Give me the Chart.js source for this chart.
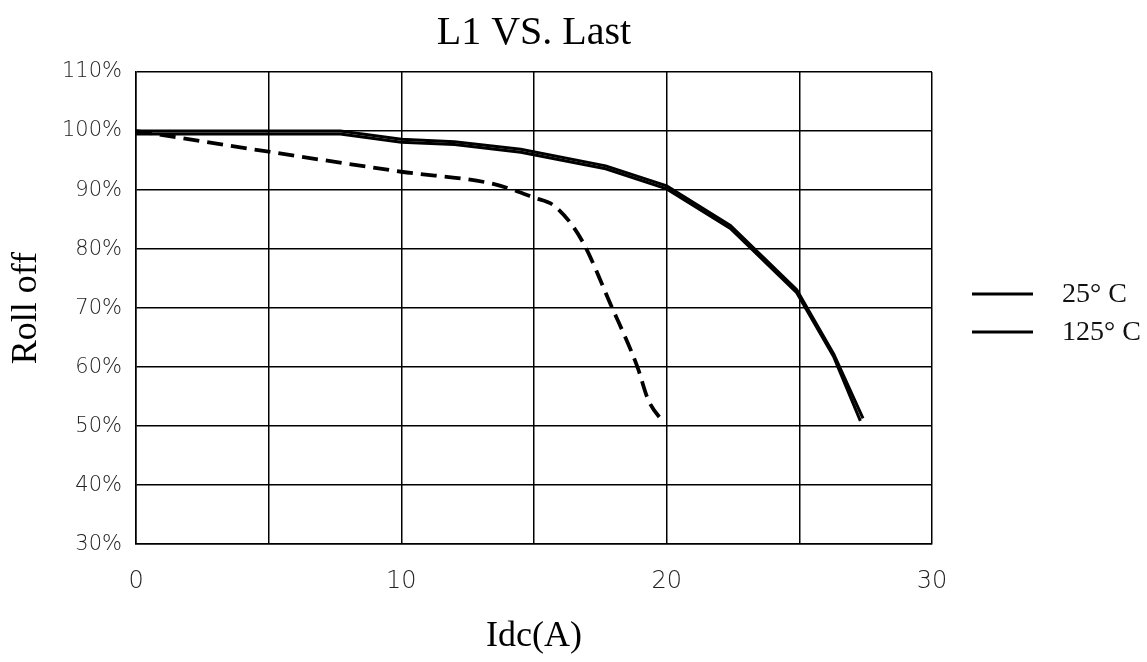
<!DOCTYPE html>
<html>
<head>
<meta charset="utf-8">
<script src="https://cdn.jsdelivr.net/npm/chart.js@4.4.1/dist/chart.umd.min.js"></script>
<style>
html,body{margin:0;padding:0;background:#fff;}
#wrap{width:1147px;height:662px;position:relative;}
</style>
</head>
<body>
<div id="wrap"><canvas id="c" width="1147" height="662"></canvas></div>
<script>
// ---- data ----
const chartTitle = 'L1 VS. Last';
const xAxisTitle = 'Idc(A)';
const yAxisTitle = 'Roll off';
const legendLabels = ['25° C', '125° C'];

const idc25  = [0, 7.7, 10, 12, 14.5, 17.7, 20, 22.4, 24.9, 26.3, 27.4];
const roll25 = [100, 100, 98.6, 98.2, 96.9, 94.1, 90.7, 84.0, 73.1, 62.2, 51.3];

const idc125  = [0, 7.7, 10, 12, 14.5, 17.7, 20, 22.4, 24.9, 26.3, 27.3];
const roll125 = [99.5, 99.5, 98.1, 97.7, 96.4, 93.6, 90.2, 83.5, 72.6, 61.7, 50.9];

const idcDash  = [0, 5, 10, 13.5, 15, 15.8, 16.8, 17.9, 18.9, 19.3, 19.9];
const rollDash = [100, 96.5, 93.1, 91.0, 88.7, 87.2, 81.5, 70.5, 60.0, 54.5, 50.5];

const xTickValues = [0, 10, 20, 30];
const yMin = 30, yMax = 110, yStep = 10;
const xMin = 0, xMax = 30, xGridStep = 5;

function pts(xs, ys){ return xs.map((x,i)=>({x:x, y:ys[i]})); }

const legendPlugin = {
  id: 'sideLegend',
  afterDraw(chart){
    const ctx = chart.ctx;
    ctx.save();
    const items = chart.data.datasets.filter(d => d.inLegend);
    items.forEach((d, i) => {
      const y = 294 + i * 38;
      ctx.strokeStyle = '#000';
      ctx.lineWidth = 3.2;
      ctx.beginPath();
      ctx.moveTo(972, y);
      ctx.lineTo(1033, y);
      ctx.stroke();
      ctx.fillStyle = '#111';
      ctx.font = '28px "Liberation Serif"';
      ctx.textBaseline = 'middle';
      ctx.textAlign = 'left';
      ctx.fillText(d.label, 1062, y + 1);
    });
    ctx.restore();
  }
};

new Chart(document.getElementById('c'), {
  type: 'scatter',
  data: {
    datasets: [
      { label: legendLabels[0], inLegend: true, data: pts(idc25, roll25), showLine: true,
        borderColor: '#000', borderWidth: 3, pointRadius: 0, tension: 0, fill: false },
      { label: legendLabels[1], inLegend: true, data: pts(idc125, roll125), showLine: true,
        borderColor: '#000', borderWidth: 3, pointRadius: 0, tension: 0, fill: false },
      { label: '', inLegend: false, data: pts(idcDash, rollDash), showLine: true,
        borderColor: '#000', borderWidth: 3.8, borderDash: [16, 8], pointRadius: 0,
        cubicInterpolationMode: 'monotone', fill: false }
    ]
  },
  options: {
    responsive: false,
    animation: false,
    devicePixelRatio: 1,
    layout: { padding: { left: 9, right: 215, top: 0, bottom: 7 } },
    plugins: {
      legend: { display: false },
      tooltip: { enabled: false },
      title: {
        display: true, text: chartTitle, color: '#000', fullSize: false,
        font: { family: '"Liberation Serif"', size: 40, weight: 'normal', lineHeight: 1.2 },
        padding: { top: 9, bottom: 15 }
      }
    },
    scales: {
      x: {
        type: 'linear', min: xMin, max: xMax,
        ticks: {
          stepSize: xGridStep, padding: 23, color: '#222',
          font: { family: '"DejaVu Sans"', size: 24, weight: 200, lineHeight: 1.2 },
          maxRotation: 0,
          callback: v => xTickValues.includes(v) ? String(v) : ''
        },
        grid: { color: '#000', lineWidth: 1.5, drawTicks: false },
        border: { display: true, color: '#000', width: 1.5 },
        title: { display: true, text: xAxisTitle, color: '#000',
          font: { family: '"Liberation Serif"', size: 36, lineHeight: 1.0 },
          padding: { top: 0, bottom: 0 } }
      },
      y: {
        type: 'linear', min: yMin, max: yMax,
        ticks: {
          stepSize: yStep, padding: 14, color: '#222',
          font: { family: '"DejaVu Sans"', size: 21, weight: 200 },
          callback: v => v + '%'
        },
        grid: { color: '#000', lineWidth: 1.5, drawTicks: false },
        border: { display: true, color: '#000', width: 1.5 },
        title: { display: true, text: yAxisTitle, color: '#000',
          font: { family: '"Liberation Serif"', size: 36, lineHeight: 1.0 },
          padding: { top: 0, bottom: 3 } }
      }
    }
  },
  plugins: [legendPlugin]
});
</script>
</body>
</html>
